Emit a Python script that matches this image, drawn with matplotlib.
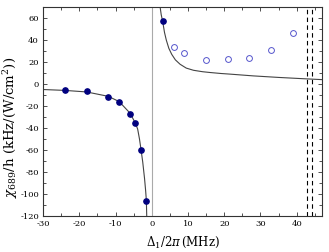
import numpy as np
import matplotlib
matplotlib.use('Agg')
import matplotlib.pyplot as plt
from matplotlib.ticker import MultipleLocator

plt.rcParams['font.family'] = 'DejaVu Serif'
plt.rcParams['mathtext.fontset'] = 'dejavuserif'
plt.rcParams['axes.unicode_minus'] = False

# measured points (filled: red detuned side + one blue)
det_filled = [-24.0, -18.0, -12.1, -9.0, -6.0, -4.5, -3.1, -1.5, 3.0]
chi_filled = [-5.6, -6.2, -11.7, -16.8, -27.7, -35.9, -60.0, -106.4, 57.5]

# measured points (open circles)
det_open = [6.1, 9.0, 15.0, 21.0, 26.9, 32.9, 39.0]
chi_open = [33.3, 27.9, 21.5, 23.0, 23.4, 31.1, 46.1]

# theory curve
det_left = [-30.0, -24.0, -18.0, -12.0, -9.0, -6.0, -4.5, -3.9, -3.4, -3.0, -2.5, -2.0, -1.7, -1.5, -1.4]
chi_left = [-5.0, -5.8, -7.2, -11.2, -16.0, -26.5, -35.8, -41.0, -50.0, -59.0, -71.0, -86.0, -97.0, -106.0, -120.0]
det_right = [2.3, 2.6, 3.0, 3.5, 4.0, 4.7, 5.5, 6.5, 7.8, 9.5, 11.5, 14.0, 16.0, 19.0, 21.6, 28.0, 35.0, 42.0, 47.0]
chi_right = [70.0, 63.0, 57.0, 47.0, 40.0, 32.5, 27.0, 22.0, 18.0, 14.5, 12.5, 11.2, 10.5, 9.6, 9.0, 7.4, 6.0, 4.8, 4.0]

dashed_x = [42.8, 44.3]

fig = plt.figure(figsize=(3.29, 2.52), dpi=100)
ax = fig.add_axes([0.131, 0.143, 0.848, 0.829])

ax.axvline(0, color='#aaaaaa', lw=0.8)
for xd in dashed_x:
    ax.axvline(xd, color='black', lw=0.8, ls=(0, (4, 3)))

ax.plot(det_left, chi_left, color='#444444', lw=0.8)
ax.plot(det_right, chi_right, color='#444444', lw=0.8)

ax.plot(det_filled, chi_filled, 'o', color='#00007f', ms=3.8, mec='#00007f')
ax.plot(det_open, chi_open, 'o', mfc='none', mec='#5555cc', ms=4.2, mew=0.7)

ax.set_xlim(-30, 47)
ax.set_ylim(-120, 70)
ax.xaxis.set_major_locator(MultipleLocator(10))
ax.xaxis.set_minor_locator(MultipleLocator(5))
ax.yaxis.set_major_locator(MultipleLocator(20))
ax.yaxis.set_minor_locator(MultipleLocator(10))
ax.tick_params(which='both', direction='in', top=True, right=True, labelsize=6, color='#333333', pad=3)
ax.tick_params(which='major', length=3, width=0.6)
ax.tick_params(which='minor', length=2, width=0.6)
for s in ax.spines.values():
    s.set_linewidth(0.8)
    s.set_color('#333333')

ax.set_xlabel(r'$\Delta_1/2\pi\,$(MHz)', fontsize=8.5, labelpad=5)
ax.set_ylabel(r'$\chi_{\mathit{689}}$/h (kHz/(W/cm$^2$))', fontsize=9.5)
ax.yaxis.set_label_coords(-0.082, 0.425)

fig.savefig('out.png', dpi=100)
